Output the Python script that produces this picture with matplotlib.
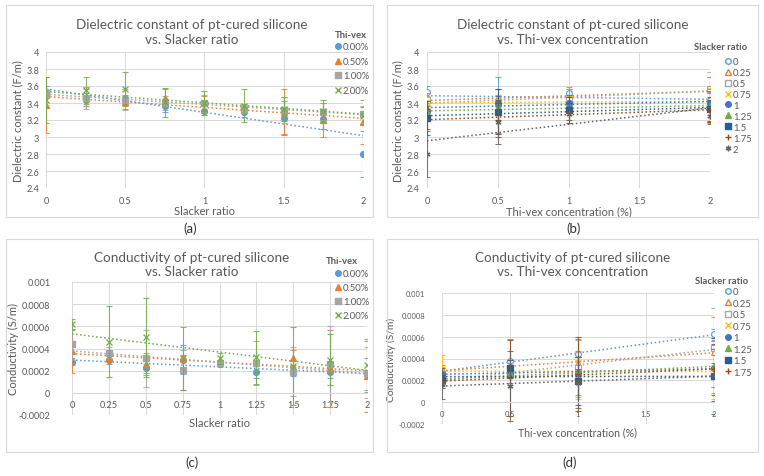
import numpy as np
import matplotlib
matplotlib.use('Agg')
import matplotlib.pyplot as plt
from matplotlib.lines import Line2D
from matplotlib.patches import Rectangle

plt.rcParams['font.family'] = ['Lato', 'DejaVu Sans']

# x values
slacker = [0, 0.25, 0.5, 0.75, 1, 1.25, 1.5, 1.75, 2]
thivex = [0, 0.5, 1, 2]
thivex_labels = ['0.00%', '0.50%', '1.00%', '2.00%']
slacker_labels = ['0', '0.25', '0.5', '0.75', '1', '1.25', '1.5', '1.75', '2']

# dielectric constant (F/m), one list per thi-vex concentration, over slacker ratio
eps_0 = [3.53, 3.44, 3.43, 3.37, 3.31, 3.30, 3.22, 3.21, 2.80]
eps_05 = [3.38, 3.46, 3.41, 3.46, 3.40, 3.34, 3.30, 3.20, 3.18]
eps_1 = [3.52, 3.46, 3.44, 3.40, 3.40, 3.33, 3.32, 3.30, 3.27]
eps_2 = [3.44, 3.55, 3.56, 3.41, 3.40, 3.37, 3.33, 3.31, 3.25]
eps_err_0 = [0.07, 0.08, 0.05, 0.07, 0.05, 0.07, 0.20, 0.12, 0.27]
eps_err_05 = [0.33, 0.10, 0.08, 0.10, 0.08, 0.05, 0.27, 0.20, 0.26]
eps_err_1 = [0.05, 0.13, 0.12, 0.08, 0.10, 0.05, 0.15, 0.10, 0.10]
eps_err_2 = [0.27, 0.16, 0.20, 0.17, 0.14, 0.19, 0.14, 0.13, 0.10]

# conductivity (S/m)
sig_0 = [0.00028, 0.00030, 0.00022, 0.00030, 0.00026, 0.00019, 0.00020, 0.00019, 0.00017]
sig_05 = [0.00038, 0.00032, 0.00026, 0.00031, 0.00027, 0.00027, 0.00031, 0.00022, 0.00015]
sig_1 = [0.00044, 0.00036, 0.00031, 0.00021, 0.00027, 0.00027, 0.00019, 0.00026, 0.00018]
sig_2 = [0.00062, 0.00046, 0.00050, 0.00031, 0.00031, 0.00032, 0.00024, 0.00030, 0.00025]
sig_err_0 = [0.00003, 0.00004, 0.00004, 0.00013, 0.00002, 0.00006, 0.00005, 0.00006, 0.00014]
sig_err_05 = [0.00020, 0.00004, 0.00010, 0.00003, 0.00002, 0.00003, 0.00008, 0.00035, 0.00032]
sig_err_1 = [0.00014, 0.00005, 0.00026, 0.00018, 0.00003, 0.00020, 0.00022, 0.00034, 0.00023]
sig_err_2 = [0.00005, 0.00032, 0.00036, 0.00028, 0.00005, 0.00024, 0.00035, 0.00023, 0.00024]

eps = [eps_0, eps_05, eps_1, eps_2]
eps_err = [eps_err_0, eps_err_05, eps_err_1, eps_err_2]
sig = [sig_0, sig_05, sig_1, sig_2]
sig_err = [sig_err_0, sig_err_05, sig_err_1, sig_err_2]

eps_ticks = [2.4, 2.6, 2.8, 3, 3.2, 3.4, 3.6, 3.8, 4]
eps_ticklabels = ['2.4', '2.6', '2.8', '3', '3.2', '3.4', '3.6', '3.8', '4']
sig_ticks = [-0.0002, 0, 0.0002, 0.0004, 0.0006, 0.0008, 0.001]
sig_ticklabels = ['-0.0002', '0', '0.0002', '0.0004', '0.0006', '0.0008', '0.001']
x5_ticks = [0, 0.5, 1, 1.5, 2]
x5_ticklabels = ['0', '0.5', '1', '1.5', '2']

# styles (colour, marker, filled)
thi_styles = [('#5B9BD5', 'o', True), ('#ED7D31', '^', True), ('#A5A5A5', 's', True), ('#70AD47', 'x', True)]
sl_styles = [('#5B9BD5', 'o', False), ('#ED7D31', '^', False), ('#A5A5A5', 's', False),
             ('#FFC000', 'x', True), ('#4472C4', 'o', True), ('#70AD47', '^', True),
             ('#255E91', 's', True), ('#9E480E', '+', True), ('#636363', (6, 2, 0), True)]

W, H = 764, 477
txt = '#595959'
grid = '#D9D9D9'
LFS = 6.8  # legend font size
AFS = 8    # axis label size

fig = plt.figure(figsize=(W / 100, H / 100), dpi=100)


def px_axes(l, t, r, b):
    return fig.add_axes([l / W, 1 - b / H, (r - l) / W, (b - t) / H])


def box(l, t, r, b):
    fig.patches.append(Rectangle((l / W, 1 - b / H), (r - l) / W, (b - t) / H,
                                 transform=fig.transFigure, fill=False, ec=grid, lw=0.8))


def style(ax, xticks, xlabels, yticks, ylabels, ylim, ypad, zero_axis=False, tsize=6.6):
    ax.set_xlim(0, 2)
    ax.set_ylim(*ylim)
    ax.set_xticks(xticks)
    ax.set_xticklabels(xlabels)
    ax.set_yticks(yticks)
    ax.set_yticklabels(ylabels)
    ax.grid(True, color=grid, lw=0.7)
    ax.set_axisbelow(True)
    for s in ax.spines.values():
        s.set_visible(False)
    ax.tick_params(length=0, labelsize=tsize, labelcolor=txt)
    ax.tick_params(axis='y', pad=ypad)
    ax.tick_params(axis='x', pad=5.5)
    if zero_axis:
        ax.spines['bottom'].set_visible(True)
        ax.spines['bottom'].set_position(('data', 0))
        ax.spines['bottom'].set_color(grid)


def draw(ax, x, ys, errs, styles):
    for y, e, (c, m, filled) in zip(ys, errs, styles):
        ax.errorbar(x, y, yerr=e, fmt='none', ecolor=c, elinewidth=0.8, capsize=2, capthick=0.8, alpha=0.85)
        k, b0 = np.polyfit(x, y, 1)
        xx = np.array([min(x), max(x)])
        ax.plot(xx, k * xx + b0, ls=':', color=c, lw=1.1)
        ax.plot(x, y, ls='none', marker=m, ms=4.2, color=c,
                mfc=c if filled else 'white', mec=c, mew=0.9 if filled else 0.8)


def legend(ax, labels, styles, title, tx, ty, mx, my, step):
    hs = [Line2D([], [], ls='none', marker=m, color=c, mfc=c if f else 'white', mec=c, ms=4)
          for c, m, f in styles]
    ls = (step / 1.389) / LFS - 0.864
    ax.legend(hs, labels, loc='upper left', bbox_to_anchor=((mx - 2.8) / W, 1 - (my - 4) / H),
              bbox_transform=fig.transFigure, frameon=False, fontsize=LFS, handlelength=0.6,
              handletextpad=0.2, labelspacing=ls, borderaxespad=0, borderpad=0, labelcolor=txt)
    fig.text(tx / W, 1 - ty / H, title, ha='left', va='center', fontsize=LFS, fontweight='bold', color=txt)


def titles(cx, cy, t, lx, ly, lab):
    fig.text(cx / W, 1 - cy / H, t, ha='center', va='center', fontsize=9.7, color=txt, linespacing=1.25)
    fig.text(lx / W, 1 - ly / H, lab, ha='center', va='center', fontsize=9.5, color='#333333')


# (a)
box(6, 6, 373, 218)
ax = px_axes(46, 53, 363, 189)
style(ax, x5_ticks, x5_ticklabels, eps_ticks, eps_ticklabels, (2.4, 4), 5)
draw(ax, slacker, eps, eps_err, thi_styles)
ax.set_xlabel('Slacker ratio', fontsize=AFS, color=txt)
ax.xaxis.set_label_coords(0.5, -17 / 136)
ax.set_ylabel('Dielectric constant (F/m)', fontsize=AFS, color=txt)
ax.yaxis.set_label_coords(-23 / 317, 0.5)
legend(ax, thivex_labels, thi_styles, 'Thi-vex', 335, 35, 338, 47.5, 13.6)
titles(192, 32.5, 'Dielectric constant of pt-cured silicone\nvs. Slacker ratio', 190, 229, '(a)')

# (b)
box(387, 6, 758, 218)
ax = px_axes(427, 53, 710, 189)
style(ax, x5_ticks, x5_ticklabels, eps_ticks, eps_ticklabels, (2.4, 4), 5.5)
eps_T = [list(r) for r in np.array(eps).T]
eps_err_T = [list(r) for r in np.array(eps_err).T]
draw(ax, thivex, eps_T, eps_err_T, sl_styles)
ax.set_xlabel('Thi-vex concentration (%)', fontsize=AFS, color=txt)
ax.xaxis.set_label_coords(0.5, -17 / 136)
ax.set_ylabel('Dielectric constant (F/m)', fontsize=AFS, color=txt)
ax.yaxis.set_label_coords(-24 / 283, 0.5)
legend(ax, slacker_labels, sl_styles, 'Slacker ratio', 694, 47, 728, 62, 10.1)
titles(573, 32.5, 'Dielectric constant of pt-cured silicone\nvs. Thi-vex concentration', 574, 229, '(b)')

# (c)
box(6, 240, 373, 453)
ax = px_axes(72, 283, 367, 416)
style(ax, slacker, slacker_labels, sig_ticks, sig_ticklabels, (-0.0002, 0.001), 15.5, zero_axis=True)
draw(ax, slacker, sig, sig_err, thi_styles)
ax.set_xlabel('Slacker ratio', fontsize=AFS, color=txt)
ax.xaxis.set_label_coords(0.5, -2 / 133)
ax.set_ylabel('Conductivity (S/m)', fontsize=AFS, color=txt)
ax.yaxis.set_label_coords(-53 / 295, 0.5)
legend(ax, thivex_labels, thi_styles, 'Thi-vex', 326, 261, 338, 274, 13.3)
titles(192, 265, 'Conductivity of pt-cured silicone\nvs. Slacker ratio', 192, 463, '(c)')

# (d)
box(387, 240, 758, 453)
ax = px_axes(442, 294, 714, 425)
style(ax, x5_ticks, x5_ticklabels, sig_ticks, sig_ticklabels, (-0.0002, 0.001), 12, zero_axis=True, tsize=5.4)
sig_T = [list(r) for r in np.array(sig).T]
sig_err_T = [list(r) for r in np.array(sig_err).T]
draw(ax, thivex, sig_T, sig_err_T, sl_styles)
ax.set_xlabel('Thi-vex concentration (%)', fontsize=7.6, color=txt)
ax.xaxis.set_label_coords(0.5, -2 / 131)
ax.set_ylabel('Conductivity (S/m)', fontsize=7.4, color=txt)
ax.yaxis.set_label_coords(-46 / 272, 0.5)
legend(ax, slacker_labels[:8], sl_styles[:8], 'Slacker ratio', 695, 282, 728, 292, 10.7)
titles(573, 265, 'Conductivity of pt-cured silicone\nvs. Thi-vex concentration', 570, 463, '(d)')

fig.savefig('out.png', dpi=100)
